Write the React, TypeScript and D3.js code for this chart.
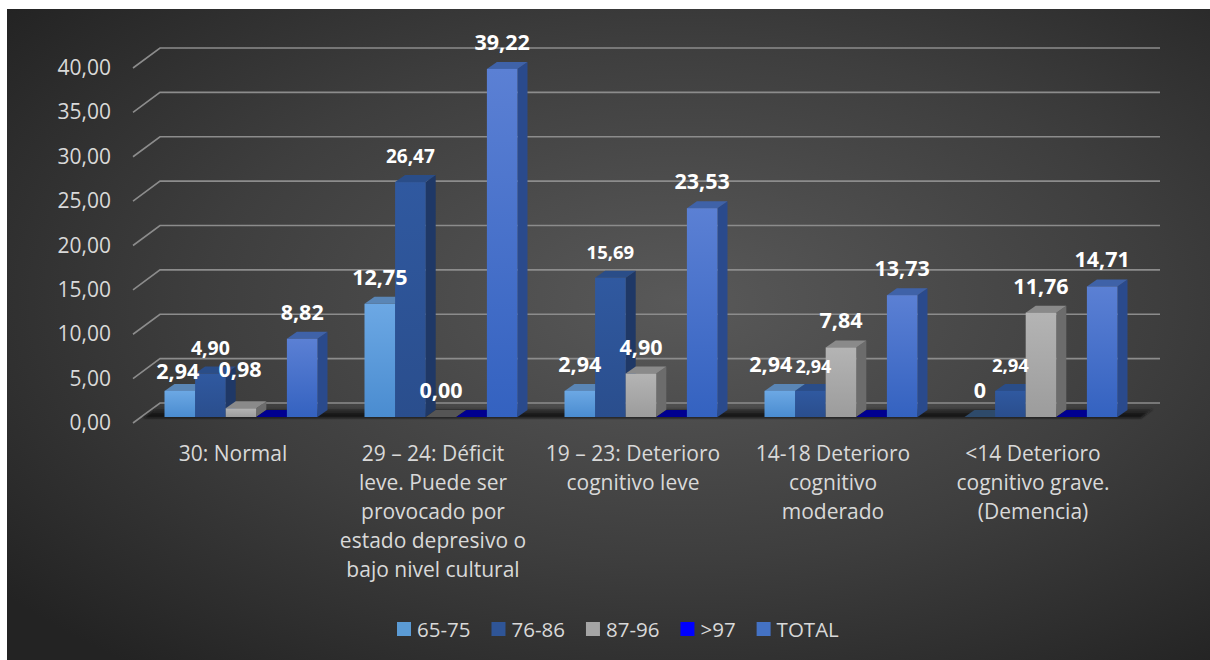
import React from "react";
import * as d3 from "d3";

const categories: string[][] = [
  ["30: Normal"],
  ["29 – 24: Déficit", "leve. Puede ser", "provocado por", "estado depresivo o", "bajo nivel cultural"],
  ["19 – 23: Deterioro", "cognitivo leve"],
  ["14-18 Deterioro", "cognitivo", "moderado"],
  ["<14 Deterioro", "cognitivo grave.", "(Demencia)"],
];

const seriesNames = ["65-75", "76-86", "87-96", ">97", "TOTAL"];

const v6575 = [2.94, 12.75, 2.94, 2.94, 0];
const v7686 = [4.9, 26.47, 15.69, 2.94, 2.94];
const v8796 = [0.98, 0, 4.9, 7.84, 11.76];
const v97 = [0, 0, 0, 0, 0];
const vTotal = [8.82, 39.22, 23.53, 13.73, 14.71];

const l6575 = ["2,94", "12,75", "2,94", "2,94", "0"];
const l7686 = ["4,90", "26,47", "15,69", "2,94", "2,94"];
const l8796 = ["0,98", "0,00", "4,90", "7,84", "11,76"];
const l97 = ["", "", "", "", ""];
const lTotal = ["8,82", "39,22", "23,53", "13,73", "14,71"];

const yTicks = [0, 5, 10, 15, 20, 25, 30, 35, 40];
const yTickLabels = ["0,00", "5,00", "10,00", "15,00", "20,00", "25,00", "30,00", "35,00", "40,00"];

const seriesValues = [v6575, v7686, v8796, v97, vTotal];
const seriesLabels = [l6575, l7686, l8796, l97, lTotal];

// styles
const styles = [
  { front: ["#6ca8e4", "#4a8cd0"], side: "#3a6a9c", top: "#5a86b6", flat: "#2e4a6a", legend: "#5b9bd5" },
  { front: ["#3059a0", "#2a4e8d"], side: "#1f3866", top: "#2a4d88", flat: "#203a66", legend: "#2f5597" },
  { front: ["#b4b4b4", "#9c9c9c"], side: "#6c6c6c", top: "#8a8a8a", flat: "#555555", legend: "#a5a5a5" },
  { front: ["#0000ff", "#0000e0"], side: "#00008a", top: "#00008c", flat: "#000090", legend: "#0000ff" },
  { front: ["#5b80d4", "#3462c0"], side: "#2a4a8c", top: "#3f62a8", flat: "#2a4a8c", legend: "#4472c4" },
];

// label nudges [series, category, dx, dy]
const nudges: [number, number, number, number][] = [
  [0, 0, -2, 7],
  [2, 0, -1, -12],
  [0, 3, -9, 0],
  [1, 3, 3, 1],
];
// label font sizes that are smaller [series, category, size]
const smallLabels: [number, number, number][] = [
  [1, 0, 19.5], [1, 1, 19], [1, 2, 18.5], [1, 3, 18], [1, 4, 18.5],
];

const W = 1210;
const H = 660;
const DX = 27, DY = -20; // wall depth
const BDX = 10, BDY = -7; // bar depth
const BOFFX = 8, BOFFY = -6; // bar offset from front plane

function measure(text: string, font: string): number {
  if (typeof document === "undefined") return text.length * 10;
  const c = document.createElement("canvas");
  const ctx = c.getContext("2d");
  if (!ctx) return text.length * 10;
  ctx.font = font;
  return ctx.measureText(text).width;
}

export default function App() {
  const y = d3.scaleLinear().domain([0, 40]).range([423, 68]);
  const x0 = d3
    .scaleBand<number>()
    .domain(d3.range(categories.length))
    .range([133 + BOFFX, 1133 + BOFFX])
    .paddingInner(0.235)
    .paddingOuter(0.1175);
  const x1 = d3.scaleBand<string>().domain(seriesNames).range([0, x0.bandwidth()]);
  const w = x1.bandwidth();
  const yb = (v: number) => y(v) + BOFFY;
  const base = yb(0);

  const font = "'Open Sans', 'DejaVu Sans', sans-serif";

  // legend layout
  const legFontSize = 20.5;
  const legFont = `${legFontSize}px 'Open Sans'`;
  const legWidths = seriesNames.map((s) => measure(s, legFont));
  const sq = 14, gap = 6, spacing = 21;
  let lx = 397;
  const legPos: number[] = [];
  legWidths.forEach((lw) => {
    legPos.push(lx);
    lx += sq + gap + lw + spacing;
  });

  const bars: JSX.Element[] = [];
  const labels: JSX.Element[] = [];
  categories.forEach((_, ci) => {
    seriesNames.forEach((s, si) => {
      const v = seriesValues[si][ci];
      const st = styles[si];
      const xl = (x0(ci) as number) + (x1(s) as number);
      const yt = yb(v);
      const key = `${ci}-${si}`;
      if (v > 0) {
        bars.push(
          <g key={key}>
            <polygon
              points={`${xl + w},${yt} ${xl + w + BDX},${yt + BDY} ${xl + w + BDX},${base + BDY} ${xl + w},${base}`}
              fill={st.side}
            />
            <polygon
              points={`${xl},${yt} ${xl + BDX},${yt + BDY} ${xl + w + BDX},${yt + BDY} ${xl + w},${yt}`}
              fill={st.top}
            />
            <rect x={xl} y={yt} width={w} height={base - yt} fill={`url(#grad${si})`} />
          </g>
        );
      } else {
        bars.push(
          <polygon
            key={key}
            points={`${xl},${base} ${xl + BDX},${base + BDY} ${xl + w + BDX},${base + BDY} ${xl + w},${base}`}
            fill={st.flat}
          />
        );
      }
      const lt = seriesLabels[si][ci];
      if (lt) {
        const n = nudges.find((d) => d[0] === si && d[1] === ci);
        const small = smallLabels.find((d) => d[0] === si && d[1] === ci);
        labels.push(
          <text
            key={"l" + key}
            x={xl + w / 2 + (n ? n[2] : 0)}
            y={yt - 19 + (n ? n[3] : 0)}
            textAnchor="middle"
            fill="#ffffff"
            fontWeight="bold"
            fontSize={small ? small[2] : 21.5}
            fontFamily={font}
          >
            {lt}
          </text>
        );
      }
    });
  });

  return (
    <svg
      width={W}
      height={H}
      style={{ position: "absolute", left: 0, top: 0, background: "#ffffff" }}
    >
      <defs>
        <radialGradient id="bg" cx="0.56" cy="0.45" r="0.72">
          <stop offset="0" stopColor="#595959" />
          <stop offset="0.55" stopColor="#3e3e3e" />
          <stop offset="1" stopColor="#232323" />
        </radialGradient>
        {styles.map((st, i) => (
          <linearGradient key={i} id={`grad${i}`} x1="0" y1="0" x2="0" y2="1">
            <stop offset="0" stopColor={st.front[0]} />
            <stop offset="1" stopColor={st.front[1]} />
          </linearGradient>
        ))}
        <linearGradient id="floorg" x1="0" y1="0" x2="0" y2="1">
          <stop offset="0" stopColor="#1c1c1c" stopOpacity="0.6" />
          <stop offset="1" stopColor="#0e0e0e" stopOpacity="0.95" />
        </linearGradient>
        <filter id="blur" x="-5%" y="-50%" width="110%" height="200%">
          <feGaussianBlur stdDeviation="0.8" />
        </filter>
      </defs>
      <rect x={7} y={9} width={W - 7} height={H - 9} fill="url(#bg)" />

      {/* gridlines */}
      {yTicks.map((t) => (
        <polyline
          key={t}
          points={`133,${y(t)} ${133 + DX},${y(t) + DY} ${1133 + DX},${y(t) + DY}`}
          fill="none"
          stroke="#8c8c8c"
          strokeWidth={1.6}
        />
      ))}

      {/* floor */}
      <polygon
        points={`${133 + BOFFX + 2},${base + 1} ${1133 + BOFFX},${base + 1} ${1133 + BOFFX + 12},${base - 8} ${133 + BOFFX + 14},${base - 8}`}
        fill="url(#floorg)"
        filter="url(#blur)"
      />

      {bars}
      {labels}

      {/* y axis labels */}
      {yTicks.map((t, i) => (
        <text
          key={"yt" + t}
          x={111}
          y={y(t) + 7}
          textAnchor="end"
          fill="#d9d9d9"
          fontSize={21}
          fontFamily={font}
        >
          {yTickLabels[i]}
        </text>
      ))}

      {/* category labels */}
      {categories.map((lines, ci) => {
        const cx = (x0(ci) as number) + x0.bandwidth() / 2 - BOFFX;
        return (
          <text key={"c" + ci} textAnchor="middle" fill="#d9d9d9" fontSize={21} fontFamily={font}>
            {lines.map((ln, li) => (
              <tspan key={li} x={cx} y={461 + li * 29}>
                {ln}
              </tspan>
            ))}
          </text>
        );
      })}

      {/* legend */}
      {seriesNames.map((s, i) => (
        <g key={"lg" + s}>
          <rect x={legPos[i]} y={622} width={sq} height={sq} fill={styles[i].legend} />
          <text x={legPos[i] + sq + gap} y={637} fill="#d9d9d9" fontSize={legFontSize} fontFamily={font}>
            {s}
          </text>
        </g>
      ))}
    </svg>
  );
}
